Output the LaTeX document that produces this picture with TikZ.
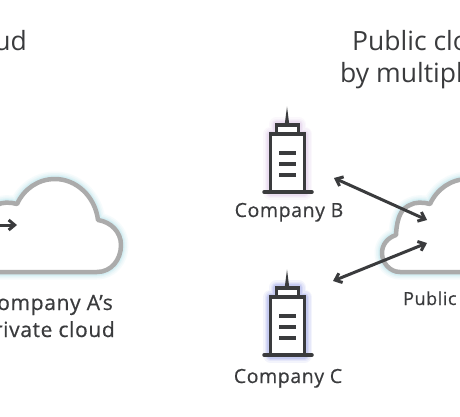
\documentclass[tikz,border=0pt]{standalone}
\usepackage{fontspec}
\setmainfont{Open Sans}
\usetikzlibrary{arrows.meta}
\definecolor{ink}{HTML}{3A3B3D}
\definecolor{cloudgray}{HTML}{ABABAB}
\definecolor{glowcyan}{HTML}{A8E0EA}
\definecolor{glowpink}{HTML}{D8BFE6}
\definecolor{glowblue}{HTML}{8C96E6}
\newfontfamily\labfont[LetterSpace=3,FakeBold=0.5]{Open Sans}
\newfontfamily\headfont{Open Sans}
\newcommand{\cloudpath}{(-13,272) -- (97,272) .. controls (111,272) and (121,260) .. (121,245) .. controls (121,232) and (111,222) .. (98,220) .. controls (95,196) and (76,179) .. (55,179) .. controls (38,179) and (24,189) .. (17,204) .. controls (10,202) and (2,202) .. (-3,205) .. controls (-10,208) and (-16,214) .. (-17,235) .. controls (-26,238) and (-31,245) .. (-31,253) .. controls (-31,263) and (-23,272) .. (-13,272) -- cycle}
\newcommand{\buildingbody}{(270.7,134) rectangle (304.5,192) (276.5,124.8) rectangle (298.5,134)}
\tikzset{
  cloudline/.style={draw=cloudgray,line width=4.5pt,fill=white,line join=round},
  buildline/.style={draw=ink,line width=3.5pt,line join=miter},
  floorline/.style={draw=ink,line width=3.5pt},
  duplex/.style={draw=ink,line width=3pt,{Straight Barb[length=6pt,width=10pt,line width=3pt]}-{Straight Barb[length=6pt,width=10pt,line width=3pt]}},
  single/.style={draw=ink,line width=3pt,-{Straight Barb[length=6pt,width=10pt,line width=3pt]}},
  lab/.style={text=ink,inner sep=0pt,font=\labfont\fontsize{19.5}{22}\selectfont},
  labsmall/.style={text=ink,inner sep=0pt,font=\labfont\fontsize{18}{22}\selectfont},
  laba/.style={text=ink,inner sep=0pt,font=\labfont\fontsize{21}{24}\selectfont},
  head/.style={text=ink,inner sep=0pt,font=\headfont\fontsize{26.5}{30}\selectfont}
}
\newcommand{\glowdraw}[2]{%
  \foreach \w/\o in {15/.10,12/.12,9/.16,7/.22}{\draw[#1,line width=\w pt,opacity=\o,line join=round] #2;}}
\newcommand{\building}[1]{%
    \glowdraw{#1}{\buildingbody}
    \fill[white] \buildingbody;
    \fill[ink] (284.8,124) -- (287,106.5) -- (289.2,124) -- cycle;
    \draw[buildline] \buildingbody;
    \draw[floorline,line cap=round] (264,192) -- (312,192);
    \foreach \yy in {153,164,175}{\draw[floorline] (279,\yy) -- (295.5,\yy);}}
\begin{document}
\begin{tikzpicture}[x=1pt,y=-1pt]
\useasboundingbox (0,0) rectangle (460,416);
\fill[white] (0,0) rectangle (460,416);
\clip (0,0) rectangle (460,416);
% clouds
\glowdraw{glowcyan}{\cloudpath}
\draw[cloudline] \cloudpath;
\begin{scope}[xshift=413pt]
\glowdraw{glowcyan}{\cloudpath}
\draw[cloudline] \cloudpath;
\end{scope}
% buildings
\building{glowpink}
\begin{scope}[yshift=-163pt]
\building{glowblue}
\end{scope}
% labels
\node[head,anchor=base east] (titleleft) at (27,50) {ud};
\node[head,anchor=base west] (titlea) at (352,50) {Public cloud};
\node[head,anchor=base west] (titleb) at (340,82) {by multiple};
\node[lab,anchor=base] (labb) at (289,217) {Company B};
\node[lab,anchor=base] (labc) at (288,383) {Company C};
\node[laba,anchor=base east] (laba) at (113,310) {Company A’s};
\node[laba,anchor=base east] (labp) at (115,337) {private cloud};
\node[labsmall,anchor=base west] (labpub) at (403,305) {Public};
% connectors
\coordinate (a1) at (-6,225);
\coordinate (a2) at (17,225);
\coordinate (b1) at (334,178);
\coordinate (b2) at (427,220);
\coordinate (c1) at (333,281);
\coordinate (c2) at (427,243);
\draw[single] (a1) -- (a2);
\draw[duplex] (b1) -- (b2);
\draw[duplex] (c1) -- (c2);
\end{tikzpicture}
\end{document}
